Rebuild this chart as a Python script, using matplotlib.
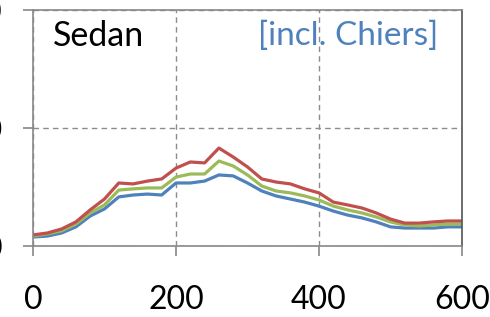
import matplotlib
matplotlib.use("Agg")
import matplotlib.pyplot as plt

# distance along the line (x) and three series
x = [0, 20, 40, 60, 80, 100, 120, 140, 160, 180, 200, 220, 240, 260, 280, 300,
     320, 340, 360, 380, 400, 420, 440, 460, 480, 500, 520, 540, 560, 580, 600]
red = [4.7, 5.5, 7.2, 10.2, 15.3, 19.9, 26.7, 26.3, 27.5, 28.4, 33.0, 35.6, 35.2, 41.5, 37.7, 33.5,
       28.4, 27.1, 26.3, 24.2, 22.5, 18.6, 17.4, 16.1, 14.0, 11.4, 9.7, 9.7, 10.2, 10.6, 10.6]
green = [4.2, 5.1, 6.4, 9.3, 14.0, 17.4, 23.7, 24.2, 24.6, 24.6, 29.2, 30.5, 30.5, 36.0, 33.9, 30.1,
         25.4, 23.3, 22.5, 21.2, 19.5, 16.9, 15.3, 14.0, 12.3, 10.2, 8.9, 8.5, 8.9, 9.3, 9.3]
blue = [3.8, 4.2, 5.5, 8.1, 12.7, 15.7, 20.8, 21.6, 22.0, 21.6, 26.7, 26.7, 27.5, 30.1, 29.7, 26.7,
        23.3, 21.2, 19.9, 18.6, 16.9, 14.8, 13.1, 11.9, 10.2, 8.1, 7.6, 7.6, 7.6, 8.1, 8.1]

xticks = [0, 200, 400, 600]
yticks = [0, 50, 100]
ylabels = ["0", "50", "100"]

plt.rcParams['font.family'] = ['Lato', 'DejaVu Sans']

fig = plt.figure(figsize=(4.9, 3.17), dpi=100)
ax = fig.add_axes([0.0673, 0.224, 0.8756, 0.7445])

for ys, c in [(blue, "#4f81bd"), (green, "#9bbb59"), (red, "#c0504d")]:
    ax.plot(x, ys, color=c, lw=2.3, solid_joinstyle='round', solid_capstyle='round')

ax.set_xlim(0, 600)
ax.set_ylim(0, 100)
ax.set_xticks(xticks)
ax.set_yticks(yticks)
ax.set_yticklabels(ylabels)
ax.grid(True, color="#8c8c8c", linestyle=(0, (4, 3)), linewidth=1.0)

for s in ax.spines.values():
    s.set_color("#888888")
    s.set_linewidth(1.2)
ax.spines['right'].set_color("#555555")

ax.tick_params(axis='x', length=7, width=1.2, color="#888888", pad=21, labelsize=23)
ax.tick_params(axis='y', length=7.5, width=1.2, color="#888888", pad=14.5, labelsize=23)

ax.text(0.046, 0.89, "Sedan", transform=ax.transAxes, fontsize=24.5, color="black", va='center')
ax.text(0.525, 0.89, "[incl. Chiers]", transform=ax.transAxes, fontsize=24, color="#4f81bd", va='center')

fig.savefig("out.png", dpi=100)
